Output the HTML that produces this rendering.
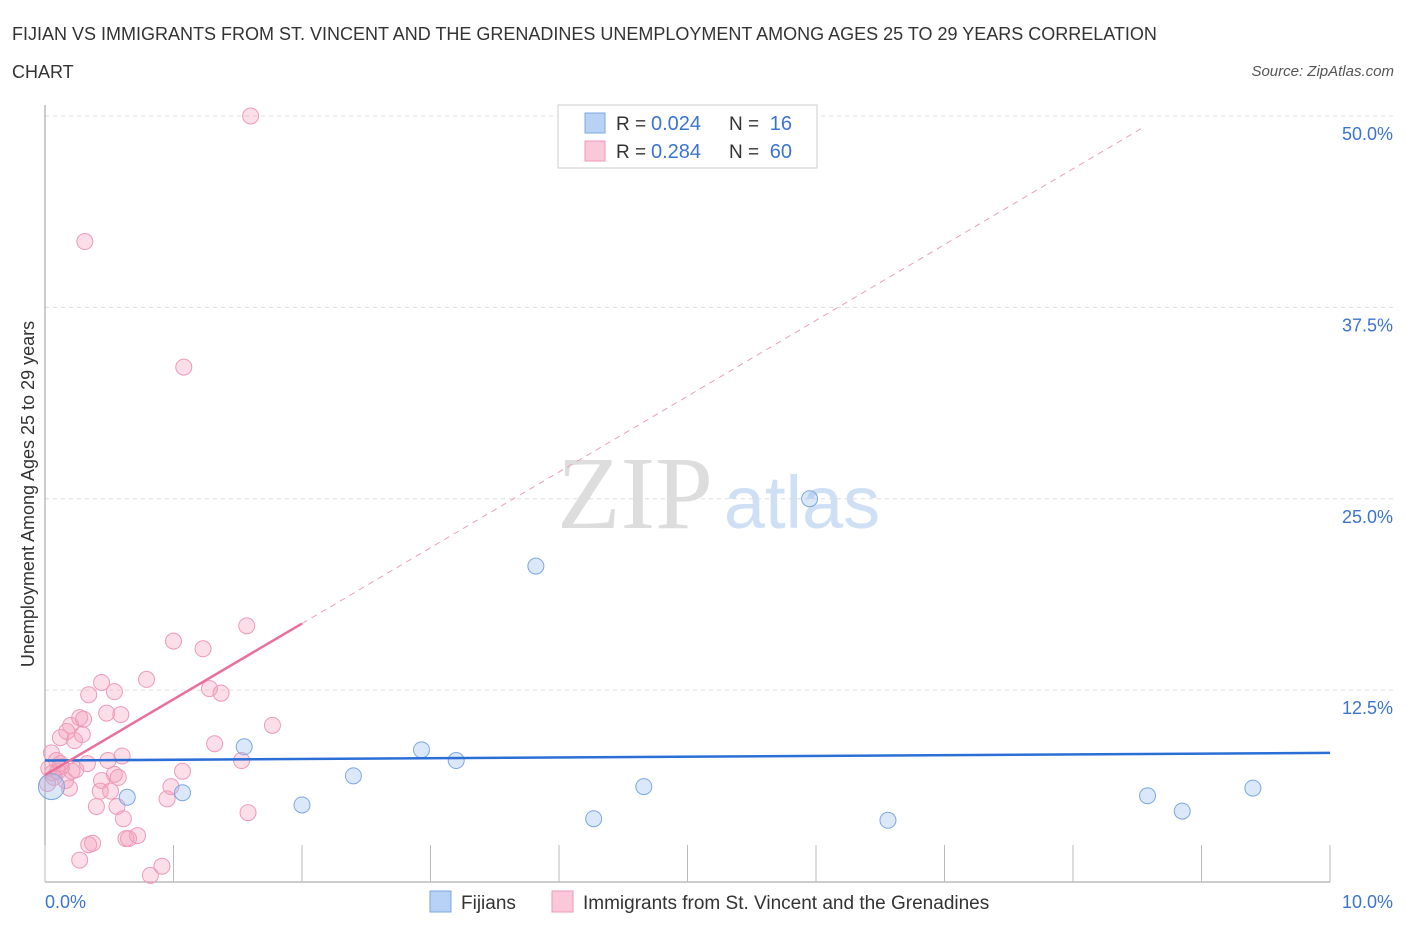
<!DOCTYPE html>
<html><head><meta charset="utf-8"><style>
body{margin:0;background:#fff;font-family:"Liberation Sans",sans-serif}
#c{position:absolute;left:0;top:0}
</style></head><body>
<svg id="c" width="1406" height="930"></svg>
<script>
const blueX=[0.05,0.64,1.07,1.55,2.0,2.4,2.93,3.2,3.82,4.27,4.66,5.95,6.56,8.58,8.85,9.4];
const blueY=[6.2,5.5,5.8,8.8,5.0,6.9,8.6,7.9,20.6,4.1,6.2,25.0,4.0,5.6,4.6,6.1];
const pinkX=[1.6,0.31,1.08,1.57,1.0,1.23,0.79,0.44,0.54,0.34,1.28,1.37,0.48,0.59,0.27,0.3,0.2,0.17,1.77,0.12,0.23,0.29,1.32,0.05,0.6,1.53,0.09,0.33,0.13,0.24,1.07,0.06,0.54,0.57,0.44,0.98,0.51,0.02,0.19,0.95,0.4,0.56,1.58,0.61,0.72,0.63,0.65,0.37,0.34,0.27,0.91,0.82,0.1,0.03,0.16,0.07,0.43,0.49,0.21,0.12];
const pinkY=[50,41.8,33.6,16.7,15.7,15.2,13.2,13.0,12.4,12.2,12.6,12.3,11.0,10.9,10.7,10.6,10.2,9.8,10.2,9.4,9.2,9.6,9.0,8.4,8.2,7.9,7.9,7.7,7.5,7.3,7.2,7.1,7.0,6.8,6.6,6.2,5.9,6.4,6.1,5.4,4.9,4.9,4.5,4.1,3.0,2.8,2.8,2.5,2.4,1.4,1.0,0.4,7.2,7.4,6.6,6.8,5.9,7.9,7.2,7.7];
const yTicks=[12.5,25.0,37.5,50.0];
const blueLine=[7.9,0.05]; // intercept, slope
const pinkLine=[6.95,4.95];
const X0=45,X1=1330,Y0=881.5,Y1=116;
const sx=v=>X0+v/10*(X1-X0), sy=v=>Y0-v/50*(Y0-Y1);
const svg=document.getElementById('c');const NS='http://www.w3.org/2000/svg';
function mk(t,a,txt){const e=document.createElementNS(NS,t);for(const k in a)e.setAttribute(k,a[k]);if(txt!=null)e.textContent=txt;svg.appendChild(e);return e;}
let e;
e=mk('text',{x:12,y:40,'font-size':18,fill:'#333'},'FIJIAN VS IMMIGRANTS FROM ST. VINCENT AND THE GRENADINES UNEMPLOYMENT AMONG AGES 25 TO 29 YEARS CORRELATION');

e=mk('text',{x:12,y:78,'font-size':18,fill:'#333'},'CHART');

e=mk('text',{x:1394,y:76,'font-size':15,fill:'#555','font-style':'italic','text-anchor':'end'},'Source: ZipAtlas.com');

e=mk('text',{x:635,y:528,'font-size':104,fill:'#ddd','font-family':'Liberation Serif','text-anchor':'middle'},'ZIP');

e=mk('text',{x:802,y:528,'font-size':74,fill:'#cfe0f5','text-anchor':'middle'},'atlas');

for(const t of yTicks){
 e=mk('line',{x1:X0,x2:1395,y1:sy(t),y2:sy(t),stroke:'#ddd','stroke-dasharray':'4,4'});
 
 e=mk('text',{x:1393,y:sy(t)+24,'font-size':18,fill:'#3b74d0','text-anchor':'end'},t.toFixed(1)+'%');
 
}
e=mk('line',{x1:X0,x2:X0,y1:105,y2:882,stroke:'#999'});
e=mk('line',{x1:X0,x2:X1,y1:882,y2:882,stroke:'#999'});
for(let i=0;i<=10;i++){e=mk('line',{x1:sx(i),x2:sx(i),y1:845,y2:882,stroke:'#bbb'});}
e=mk('text',{x:45,y:908,'font-size':18,fill:'#3b74d0'},'0.0%');
e=mk('text',{x:1393,y:908,'font-size':18,fill:'#3b74d0','text-anchor':'end'},'10.0%');
e=mk('text',{x:34,y:494,'font-size':18,fill:'#333','text-anchor':'middle',transform:'rotate(-90 34 494)'},'Unemployment Among Ages 25 to 29 years');

pinkX.forEach((x,i)=>{e=mk('circle',{cx:sx(x),cy:sy(pinkY[i]),r:8,fill:'rgba(244,160,190,0.35)',stroke:'#ee9ab8','stroke-width':1});
 });
blueX.forEach((x,i)=>{e=mk('circle',{cx:sx(x),cy:sy(blueY[i]),r:i==0?13:8,fill:'rgba(150,190,240,0.35)',stroke:'#7aa8e0','stroke-width':1});
 });
e=mk('line',{x1:sx(0),y1:sy(blueLine[0]),x2:sx(10),y2:sy(blueLine[0]+blueLine[1]*10),stroke:'#2b6fd6','stroke-width':2.5});

e=mk('line',{x1:sx(0),y1:sy(pinkLine[0]),x2:sx(2),y2:sy(pinkLine[0]+pinkLine[1]*2),stroke:'#e8709a','stroke-width':2.5});

e=mk('line',{x1:sx(2),y1:sy(pinkLine[0]+pinkLine[1]*2),x2:sx(8.56),y2:sy(pinkLine[0]+pinkLine[1]*8.56),stroke:'#eaa0b8','stroke-width':1,'stroke-dasharray':'6,5'});

e=mk('rect',{x:558,y:105,width:259,height:63,fill:'#fff',stroke:'#ccc'});
const rows=[['#b8d2f5','#7aa8e0','0.024','16'],['#fac8d8','#ee9ab8','0.284','60']];
rows.forEach((r,i)=>{const y=123+i*28;
 e=mk('rect',{x:585,y:y-10,width:20,height:20,fill:r[0],stroke:r[1]});
 e=mk('text',{x:616,y:y+7,'font-size':19,fill:'#333'},'R = ');
 e=mk('text',{x:651,y:y+7,'font-size':20,fill:'#3b74d0'},r[2]);
 e=mk('text',{x:729,y:y+7,'font-size':19,fill:'#333'},'N = ');
 e=mk('text',{x:792,y:y+7,'font-size':20,fill:'#3b74d0','text-anchor':'end'},r[3]);
});
e=mk('rect',{x:430,y:891,width:21,height:21,fill:'#b8d2f5',stroke:'#7aa8e0'});
e=mk('text',{x:461,y:909,'font-size':19,fill:'#333'},'Fijians');
e=mk('rect',{x:552,y:891,width:21,height:21,fill:'#fac8d8',stroke:'#ee9ab8'});
e=mk('text',{x:583,y:909,'font-size':19,fill:'#333'},'Immigrants from St. Vincent and the Grenadines');
</script></body></html>
